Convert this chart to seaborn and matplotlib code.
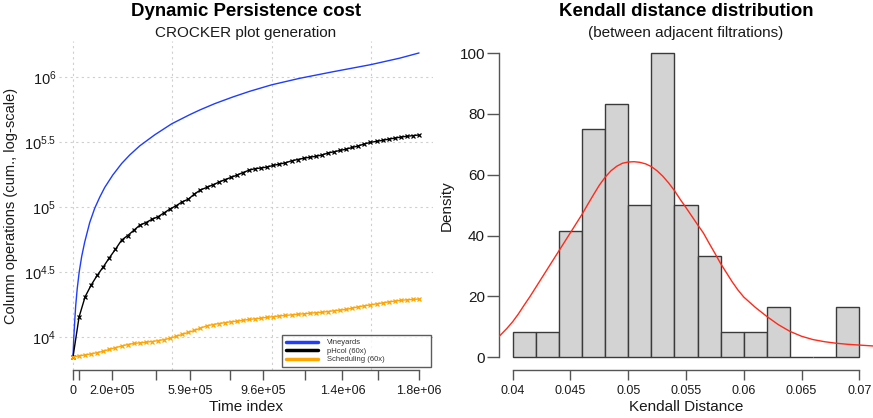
import numpy as np
import pandas as pd
import matplotlib
matplotlib.use("Agg")
import matplotlib.pyplot as plt
from matplotlib.lines import Line2D
import seaborn as sns

# ---------------- data: left panel ----------------
vine_time = [0, 3640, 8840, 14050, 21850, 32250, 45260, 60870, 86880, 112900,
             138900, 164900, 206500, 253400, 295000, 347000, 425000, 513400, 607000,
             659100, 737200, 830800, 919200, 1033700, 1179400, 1351000, 1548700,
             1699600, 1800000]
vine_log10 = [3.846, 3.98, 4.12, 4.24, 4.37, 4.50, 4.62, 4.73, 4.88, 4.99,
              5.075, 5.15, 5.245, 5.335, 5.40, 5.47, 5.555, 5.64, 5.71,
              5.746, 5.795, 5.846, 5.89, 5.94, 5.99, 6.04, 6.095,
              6.145, 6.185]

sample_time = np.linspace(0, 1.8e6, 58)
phcol_log10 = [3.846, 4.154, 4.31, 4.40, 4.475, 4.54, 4.61, 4.675, 4.745, 4.78,
               4.82, 4.86, 4.88, 4.905, 4.925, 4.955, 4.985, 5.01, 5.04, 5.06,
               5.10, 5.131, 5.15, 5.17, 5.19, 5.21, 5.227, 5.245, 5.265, 5.283,
               5.295, 5.30, 5.308, 5.32, 5.33, 5.34, 5.355, 5.365, 5.375, 5.383,
               5.39, 5.40, 5.415, 5.425, 5.435, 5.445, 5.458, 5.47, 5.485, 5.497,
               5.505, 5.513, 5.522, 5.53, 5.538, 5.544, 5.549, 5.554]
sched_log10 = [3.846, 3.855, 3.862, 3.870, 3.880, 3.890, 3.905, 3.918, 3.93, 3.942,
               3.95, 3.955, 3.96, 3.965, 3.972, 3.98, 3.99, 4.005, 4.02, 4.035,
               4.05, 4.068, 4.085, 4.095, 4.103, 4.11, 4.117, 4.122, 4.128, 4.135,
               4.14, 4.145, 4.152, 4.156, 4.162, 4.166, 4.17, 4.175, 4.178, 4.183,
               4.187, 4.19, 4.196, 4.202, 4.207, 4.212, 4.222, 4.232, 4.24, 4.247,
               4.255, 4.262, 4.27, 4.276, 4.282, 4.286, 4.289, 4.292]

series_labels = ["Vineyards", "pHcol (60x)", "Scheduling (60x)"]
series_colors = ["#1f3dff", "black", "#FFA500"]

x_tick_pos = [0, 31200, 205000, 433900, 610700, 815200, 988400, 1205400, 1401500, 1586700, 1800000]
x_tick_lab = ["0", "", "2.0e+05", "", "5.9e+05", "", "9.6e+05", "", "1.4e+06", "", "1.8e+06"]
x_grid = [0, 515000, 1035000, 1550000]
y_tick_exp = [4, 4.5, 5, 5.5, 6]
y_tick_lab = ["$10^{4}$", "$10^{4.5}$", "$10^{5}$", "$10^{5.5}$", "$10^{6}$"]

# ---------------- data: right panel ----------------
breaks = [0.040, 0.042, 0.044, 0.046, 0.048, 0.050, 0.052, 0.054,
          0.056, 0.058, 0.060, 0.062, 0.064, 0.066, 0.068, 0.070]
bin_counts = [1, 1, 5, 9, 10, 6, 12, 6, 4, 1, 1, 2, 0, 0, 2]
curve_x = [0.03881, 0.0395, 0.0400, 0.0405, 0.0410, 0.0415, 0.0420, 0.0425, 0.0430,
           0.0435, 0.0440, 0.0445, 0.0450, 0.0455, 0.0460, 0.0465, 0.0470, 0.0475,
           0.0480, 0.0485, 0.0490, 0.0495, 0.0500, 0.0505, 0.0510, 0.0515, 0.0520,
           0.0525, 0.0530, 0.0535, 0.0540, 0.0545, 0.0550, 0.0555, 0.0560, 0.0565,
           0.0570, 0.0575, 0.0580, 0.0585, 0.0590, 0.0595, 0.0600, 0.0610, 0.0620,
           0.0630, 0.0640, 0.0650, 0.0660, 0.0670, 0.0680, 0.0690, 0.0700, 0.0712]
curve_y = [6.8, 9.5, 11.7, 14.3, 17.2, 20.0, 23.0, 26.0, 29.0,
           32.0, 35.0, 38.0, 41.0, 44.0, 47.0, 50.3, 53.5, 56.6,
           59.2, 61.3, 62.8, 63.8, 64.2, 64.3, 64.1, 63.6, 62.7,
           61.3, 59.5, 57.3, 54.8, 51.9, 49.2, 46.4, 43.6, 40.9,
           37.5, 34.2, 30.8, 27.8, 24.8, 22.1, 19.8, 16.4, 13.4,
           10.7, 8.5, 6.9, 5.8, 5.1, 4.6, 4.25, 4.0, 3.7]
rx_ticks = [0.04, 0.045, 0.05, 0.055, 0.06, 0.065, 0.07]
rx_lab = ["0.04", "0.045", "0.05", "0.055", "0.06", "0.065", "0.07"]
ry_ticks = [0, 20, 40, 60, 80, 100]

# ---------------- styling ----------------
sns.set_theme(style="white")
plt.rcParams["font.family"] = ["Liberation Sans", "DejaVu Sans"]
plt.rcParams["mathtext.fontset"] = "custom"
plt.rcParams["mathtext.rm"] = "Liberation Sans"
plt.rcParams["mathtext.it"] = "Liberation Sans:italic"
plt.rcParams["mathtext.default"] = "regular"

W, H = 873, 418
fig = plt.figure(figsize=(W / 100, H / 100), dpi=100)
fig.patch.set_facecolor("white")

def px_axes(l, r, t, b):
    return fig.add_axes([l / W, 1 - b / H, (r - l) / W, (b - t) / H])

axis_col = "#555555"
txt_col = "#1a1a1a"

# ---------------- left panel ----------------
ax1 = px_axes(59, 433, 41, 370)
ax1.set_facecolor("white")
for e in y_tick_exp:
    ax1.axhline(10 ** e, color="#cfcfcf", lw=0.8, ls=(0, (2, 3)), zorder=0)
for g in x_grid:
    ax1.axvline(g, color="#cfcfcf", lw=0.8, ls=(0, (2, 3)), zorder=0)

sns.lineplot(x=vine_time, y=10 ** np.array(vine_log10), color=series_colors[0], lw=1.0,
             ax=ax1, zorder=3)
sns.lineplot(x=sample_time, y=10 ** np.array(phcol_log10), color=series_colors[1], lw=1.0,
             marker="x", markersize=3.5, markeredgewidth=0.9,
             markeredgecolor=series_colors[1], ax=ax1, zorder=4)
sns.lineplot(x=sample_time, y=10 ** np.array(sched_log10), color=series_colors[2], lw=1.0,
             marker="x", markersize=3.5, markeredgewidth=0.9,
             markeredgecolor=series_colors[2], ax=ax1, zorder=4)

ax1.set_yscale("log")
ax1.set_xlim(-72832, 1872800)
ax1.set_ylim(10 ** 3.746, 10 ** 6.277)
ax1.set_yticks([10 ** e for e in y_tick_exp])
ax1.set_yticklabels(y_tick_lab)
ax1.yaxis.set_minor_locator(matplotlib.ticker.NullLocator())
ax1.tick_params(axis="y", length=0, pad=2, labelsize=10.5, colors=txt_col)
ax1.set_xticks(x_tick_pos)
ax1.set_xticklabels(x_tick_lab)
ax1.tick_params(axis="x", length=7, width=1, color=axis_col, pad=4, labelsize=9, labelcolor=txt_col,
                direction="out", bottom=True)
for s in ["top", "right", "left"]:
    ax1.spines[s].set_visible(False)
ax1.spines["bottom"].set_bounds(0, 1.8e6)
ax1.spines["bottom"].set_color(axis_col)
ax1.spines["bottom"].set_linewidth(1)
ax1.set_xlabel("Time index", fontsize=11, color=txt_col, labelpad=2)
ax1.set_ylabel("Column operations (cum., log-scale)", fontsize=10.5, color=txt_col, labelpad=4)

handles = [Line2D([], [], color=c, lw=2.5) for c in series_colors]
leg = ax1.legend(handles, series_labels, loc="lower left",
                 bbox_to_anchor=(0.596, 0.009, 0.399, 0.094), mode="expand",
                 fontsize=5.5, frameon=True, fancybox=False, borderpad=0.5,
                 handlelength=4.2, handletextpad=1.2, labelspacing=0.15, borderaxespad=0)
leg.get_frame().set_edgecolor("#333333")
leg.get_frame().set_linewidth(1.0)
for t in leg.get_texts():
    t.set_color("#333333")

fig.text(246 / W, 1 - 12 / H, "Dynamic Persistence cost", ha="center", va="center",
         fontsize=13.4, fontweight="bold", color="black")
fig.text(246 / W, 1 - 33 / H, "CROCKER plot generation", ha="center", va="center",
         fontsize=11, color=txt_col)

# ---------------- right panel ----------------
ax2 = px_axes(499, 873, 41, 370)
ax2.set_facecolor("white")
hist_df = pd.DataFrame({
    "dist": [(a + b) / 2 for a, b in zip(breaks[:-1], breaks[1:])],
    "count": bin_counts,
})
sns.histplot(data=hist_df, x="dist", weights="count", bins=breaks, stat="density",
             color="#d3d3d3", edgecolor="#3a3a3a", linewidth=1.0, alpha=1, ax=ax2)
sns.lineplot(x=curve_x, y=curve_y, color="#ff2a1a", lw=1.0, ax=ax2, zorder=5)
ax2.set_xlim(0.03881, 0.07119)
ax2.set_ylim(-4.2, 104)
ax2.set_xticks(rx_ticks)
ax2.set_xticklabels(rx_lab)
ax2.set_yticks(ry_ticks)
ax2.tick_params(axis="x", length=7, width=1, color=axis_col, pad=4, labelsize=9,
                labelcolor=txt_col, direction="out", bottom=True)
ax2.tick_params(axis="y", length=9, width=1, color=axis_col, pad=1, labelsize=11,
                labelcolor=txt_col, direction="out", left=True)
for s in ["top", "right"]:
    ax2.spines[s].set_visible(False)
ax2.spines["bottom"].set_bounds(0.04, 0.07)
ax2.spines["left"].set_bounds(0, 100)
for s in ["bottom", "left"]:
    ax2.spines[s].set_color(axis_col)
    ax2.spines[s].set_linewidth(1)
ax2.set_xlabel("Kendall Distance", fontsize=11, color=txt_col, labelpad=2)
ax2.set_ylabel("Density", fontsize=11, color=txt_col, labelpad=4)

fig.text(686 / W, 1 - 12 / H, "Kendall distance distribution", ha="center", va="center",
         fontsize=13.4, fontweight="bold", color="black")
fig.text(686 / W, 1 - 33 / H, "(between adjacent filtrations)", ha="center", va="center",
         fontsize=11, color=txt_col)

fig.savefig("out.png", dpi=100)
